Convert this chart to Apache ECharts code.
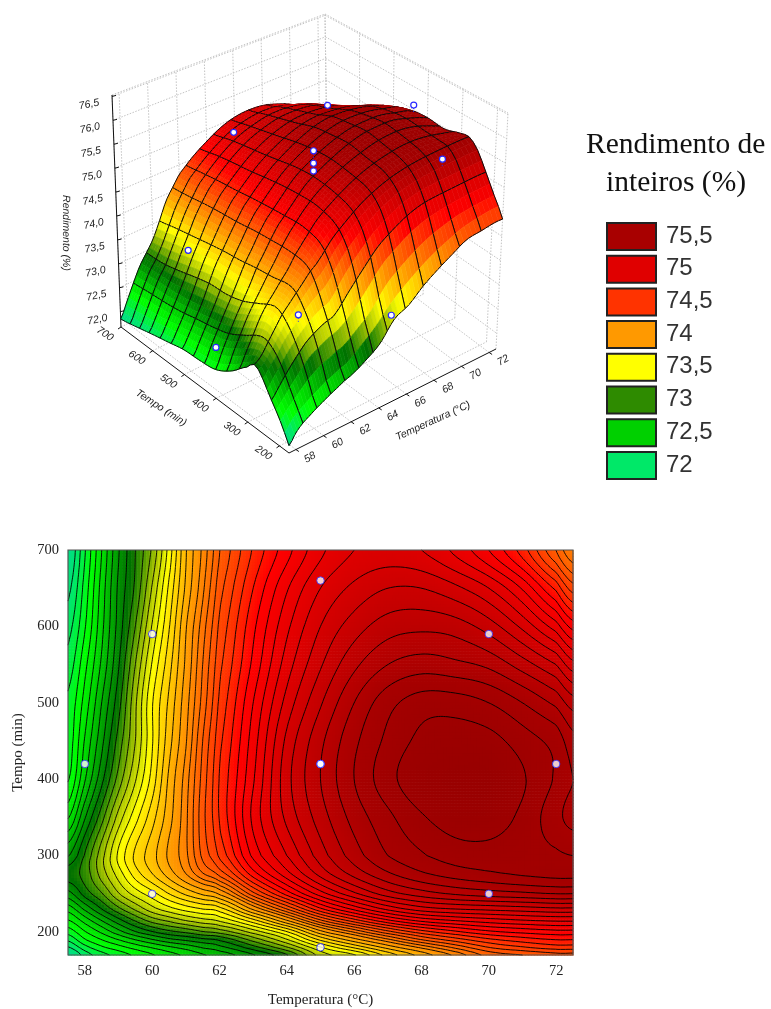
<!DOCTYPE html>
<html>
<head>
<meta charset="utf-8">
<style>
html, body { margin:0; padding:0; background:#fff; }
#main { width:771px; height:1009px; }
</style>
<script src="https://cdn.jsdelivr.net/npm/echarts@6/dist/echarts.min.js"></script>
</head>
<body>
<div id="main"></div>
<script>
// ==============================
// data
// ==============================

const temps = [57.5,58,58.5,59,59.5,60,60.5,61,61.5,62,63,64,65,66,67,68,69,70,71,72,72.5];
const times = [170,180,190,200,215,230,250,275,300,350,400,450,500,550,600,650,700];

// one row per entry of times, one column per entry of temps
const row170 = [71.82,72.00,72.12,72.20,72.28,72.35,72.42,72.48,72.55,72.60,72.75,72.95,73.30,73.45,73.70,73.90,74.08,74.25,74.30,74.35,74.35];
const row180 = [71.95,72.12,72.24,72.32,72.40,72.47,72.54,72.60,72.67,72.73,72.92,73.15,73.45,73.68,73.90,74.08,74.24,74.38,74.45,74.50,74.50];
const row190 = [72.08,72.25,72.36,72.46,72.56,72.65,72.73,72.78,72.83,72.88,73.10,73.35,73.68,73.92,74.12,74.30,74.42,74.52,74.58,74.62,74.62];
const row200 = [72.20,72.35,72.48,72.62,72.75,72.85,72.93,72.98,73.05,73.10,73.30,73.55,73.92,74.15,74.35,74.50,74.60,74.68,74.72,74.75,74.75];
const row215 = [72.35,72.50,72.66,72.82,72.97,73.10,73.18,73.26,73.32,73.38,73.62,73.95,74.28,74.50,74.68,74.80,74.86,74.90,74.93,74.95,74.95];
const row230 = [72.50,72.68,72.86,73.03,73.18,73.32,73.42,73.50,73.56,73.62,73.98,74.30,74.60,74.80,74.96,75.06,75.10,75.12,75.14,75.16,75.16];
const row250 = [72.72,72.90,73.05,73.25,73.40,73.52,73.66,73.78,73.88,73.98,74.35,74.65,74.90,75.08,75.22,75.30,75.35,75.38,75.40,75.42,75.42];
const row275 = [72.90,73.00,73.20,73.40,73.60,73.75,73.90,74.05,74.20,74.32,74.65,74.90,75.12,75.28,75.40,75.48,75.53,75.56,75.585,75.60,75.60];
const row300 = [72.75,72.97,73.22,73.48,73.68,73.82,73.98,74.12,74.32,74.48,74.80,75.02,75.22,75.38,75.50,75.57,75.62,75.63,75.61,75.59,75.58];
const row350 = [72.45,72.75,73.02,73.30,73.52,73.72,73.92,74.12,74.35,74.55,74.88,75.12,75.30,75.45,75.56,75.65,75.70,75.70,75.64,75.53,75.47];
const row400 = [72.25,72.55,72.83,73.10,73.35,73.60,73.88,74.10,74.33,74.55,74.85,75.15,75.34,75.50,75.63,75.72,75.75,75.75,75.67,75.57,75.50];
const row450 = [72.20,72.47,72.73,73.00,73.26,73.55,73.82,74.05,74.30,74.52,74.82,75.12,75.32,75.48,75.60,75.68,75.70,75.69,75.62,75.55,75.45];
const row500 = [72.18,72.40,72.66,72.92,73.24,73.55,73.78,74.02,74.25,74.48,74.78,75.05,75.25,75.42,75.55,75.62,75.62,75.58,75.50,75.40,75.30];
const row550 = [72.10,72.33,72.58,72.85,73.16,73.47,73.72,73.98,74.22,74.44,74.72,74.98,75.17,75.32,75.42,75.46,75.44,75.40,75.30,75.18,75.05];
const row600 = [72.02,72.25,72.53,72.80,73.06,73.37,73.65,73.95,74.18,74.40,74.68,74.92,75.10,75.22,75.30,75.32,75.30,75.22,75.08,74.90,74.75];
const row650 = [71.93,72.20,72.50,72.78,72.98,73.27,73.58,73.88,74.12,74.35,74.62,74.85,75.02,75.12,75.18,75.18,75.12,75.02,74.85,74.60,74.42];
const row700 = [71.85,72.15,72.46,72.75,72.96,73.18,73.50,73.85,74.08,74.30,74.55,74.75,74.92,75.02,75.05,75.02,74.92,74.78,74.58,74.30,74.15];
const yieldRows = [row170,row180,row190,row200,row215,row230,row250,row275,row300,row350,row400,row450,row500,row550,row600,row650,row700];

// experiment points
const pointTemp = [58,60,60,65,65,65,65,65,70,70,72];
const pointTime = [420,250,590,180,420,420,420,660,250,590,420];
const pointYield = [72.53,73.67,73.46,73.33,75.64,75.38,75.22,75.0,75.56,75.26,75.75];

// colour scale
const colorLevels = [71.8,72.0,72.3,72.5,72.9,73.0,73.25,73.5,74.0,74.5,74.7,75.0,75.5,75.8];
const colorValues = ['#00d890','#00e868','#00ff00','#00d800','#007000','#2e8b00','#a8c400','#ffff00','#ff9900','#ff3300','#ff0000','#e00000','#a80000','#960000'];

// legend
const legendLabels = ['75,5','75','74,5','74','73,5','73','72,5','72'];
const legendColors = ['#a80000','#e00000','#ff3300','#ff9900','#ffff00','#2e8b00','#00d000','#00e868'];

// axis ticks
const tempTicks = [58,60,62,64,66,68,70,72];
const timeTicks = [200,300,400,500,600,700];
const yieldTicks = [72,72.5,73,73.5,74,74.5,75,75.5,76,76.5];

// contour levels get wider below 74
const contourTop = 75.66;
const contourStepHigh = 0.08;
const contourStepLow = 0.1;
const contourBreak = 74.1;

// mesh lines of the 3D surface
const meshTemps = [57.5,58.5,59.5,60.5,61.5,62.5,63.5,64.5,65.75,67,68.25,69.5,71,72.5];
const meshTimes = [170,225,278,325,365,400,435,470,505,540,575,610,640,670,700];


// ==============================
// field lookup
// ==============================

function toIndex(list, v){
    for (let i = 0; i < list.length - 1; i++) {
        if (v <= list[i + 1]) return i + (v - list[i]) / (list[i + 1] - list[i]);
    }
    return list.length - 1;
}

function cubic(a, b, c, d, s){
    return b + 0.5 * s * (c - a + s * (2 * a - 5 * b + 4 * c - d + s * (3 * (b - c) + d - a)));
}

function rowAt(r, fc){
    const n = temps.length - 1;
    const c = Math.min(Math.floor(fc), n - 1);
    const row = yieldRows[r];
    return cubic(row[Math.max(c - 1, 0)], row[c], row[c + 1], row[Math.min(c + 2, n)], fc - c);
}

function yieldAt(temp, time){
    const fc = toIndex(temps, temp);
    const fr = toIndex(times, time);
    const n = times.length - 1;
    const r = Math.min(Math.floor(fr), n - 1);
    return cubic(
        rowAt(Math.max(r - 1, 0), fc), rowAt(r, fc),
        rowAt(r + 1, fc), rowAt(Math.min(r + 2, n), fc), fr - r
    );
}

function colorOf(z){
    const n = colorLevels.length - 1;
    if (z <= colorLevels[0]) return colorValues[0];
    if (z >= colorLevels[n]) return colorValues[n];
    let i = 0;
    while (z > colorLevels[i + 1]) i++;
    const s = (z - colorLevels[i]) / (colorLevels[i + 1] - colorLevels[i]);
    const rgb = k => {
        const a = parseInt(colorValues[i].substr(k, 2), 16);
        const b = parseInt(colorValues[i + 1].substr(k, 2), 16);
        return Math.round(a + (b - a) * s);
    };
    return 'rgb(' + rgb(1) + ',' + rgb(3) + ',' + rgb(5) + ')';
}


// ==============================
// 3D box projection
// ==============================

const boxBottom = { a:[121,327], b:[289,453], c:[496,349], d:[328,223] };
const boxTop = { a:[112,95], b:[289,198], c:[508,113], d:[325,14] };
const zMin = 71.68;
const zMax = 76.53;

function project(temp, time, z){
    const u = (temp - 57.5) / 15;
    const v = (time - 170) / 530;
    const w = (z - zMin) / (zMax - zMin);
    const mix = (k) => {
        const lo = boxBottom.a[k] * (1 - u) * v + boxBottom.b[k] * (1 - u) * (1 - v) +
                   boxBottom.c[k] * u * (1 - v) + boxBottom.d[k] * u * v;
        const hi = boxTop.a[k] * (1 - u) * v + boxTop.b[k] * (1 - u) * (1 - v) +
                   boxTop.c[k] * u * (1 - v) + boxTop.d[k] * u * v;
        return lo + (hi - lo) * w;
    };
    return [mix(0), mix(1)];
}


// ==============================
// contour map cells and lines
// ==============================

const heatCells = [];
const heatStepT = 15 / 168;
const heatStepM = 530 / 136;
for (let i = 0; i < 168; i++) {
    for (let j = 0; j < 136; j++) {
        const t0 = 57.5 + i * heatStepT;
        const m0 = 170 + j * heatStepM;
        heatCells.push([t0, m0, t0 + heatStepT, m0 + heatStepM,
            yieldAt(t0 + heatStepT / 2, m0 + heatStepM / 2)]);
    }
}

const contourLevels = [];
for (let level = contourTop; level > 71.9; ) {
    contourLevels.push(level);
    level -= level > contourBreak ? contourStepHigh : contourStepLow;
}

const isoLines = [];
(function buildContours(){
    const nx = 202, ny = 163;
    const sample = [];
    for (let i = 0; i <= nx; i++) {
        sample.push([]);
        for (let j = 0; j <= ny; j++) {
            sample[i].push(yieldAt(57.5 + 15 * i / nx, 170 + 530 * j / ny));
        }
    }
    const px = i => 57.5 + 15 * i / nx;
    const py = j => 170 + 530 * j / ny;
    contourLevels.forEach(level => {
        const segs = [];
        for (let i = 0; i < nx; i++) {
            for (let j = 0; j < ny; j++) {
                const a = sample[i][j], b = sample[i + 1][j];
                const c = sample[i + 1][j + 1], d = sample[i][j + 1];
                const pts = [];
                if ((a < level) !== (b < level)) pts.push([px(i + (level - a) / (b - a)), py(j)]);
                if ((b < level) !== (c < level)) pts.push([px(i + 1), py(j + (level - b) / (c - b))]);
                if ((d < level) !== (c < level)) pts.push([px(i + (level - d) / (c - d)), py(j + 1)]);
                if ((a < level) !== (d < level)) pts.push([px(i), py(j + (level - a) / (d - a))]);
                if (pts.length >= 2) segs.push(pts[0].concat(pts[1]));
                if (pts.length === 4) segs.push(pts[2].concat(pts[3]));
            }
        }
        isoLines.push(segs);
    });
})();


// ==============================
// 3D surface facets, far to near
// ==============================

const facets = [];
(function buildFacets(){
    const subT = 5, subM = 4;
    const us = [], vs = [];
    for (let i = 0; i < meshTemps.length - 1; i++) {
        for (let s = 0; s < subT; s++) us.push(meshTemps[i] + (meshTemps[i + 1] - meshTemps[i]) * s / subT);
    }
    us.push(meshTemps[meshTemps.length - 1]);
    for (let j = 0; j < meshTimes.length - 1; j++) {
        for (let s = 0; s < subM; s++) vs.push(meshTimes[j] + (meshTimes[j + 1] - meshTimes[j]) * s / subM);
    }
    vs.push(meshTimes[meshTimes.length - 1]);
    for (let i = 0; i < us.length - 1; i++) {
        for (let j = 0; j < vs.length - 1; j++) {
            const t0 = us[i], t1 = us[i + 1], m0 = vs[j], m1 = vs[j + 1];
            facets.push({
                corners: [
                    project(t0, m0, yieldAt(t0, m0)),
                    project(t1, m0, yieldAt(t1, m0)),
                    project(t1, m1, yieldAt(t1, m1)),
                    project(t0, m1, yieldAt(t0, m1))
                ],
                z: yieldAt((t0 + t1) / 2, (m0 + m1) / 2),
                depth: (t0 - 57.5) / 15 + (m0 - 170) / 530,
                left: i % subT === 0,
                right: (i + 1) % subT === 0,
                low: j % subM === 0,
                high: (j + 1) % subM === 0
            });
        }
    }
    facets.sort((p, q) => q.depth - p.depth);
})();


// ==============================
// box walls, floor and axes
// ==============================

const wallLines = [];
const axisLines = [];
yieldTicks.forEach(z => {
    wallLines.push([project(57.5, 700, z), project(72.5, 700, z)]);
    wallLines.push([project(72.5, 700, z), project(72.5, 170, z)]);
});
tempTicks.forEach(t => {
    wallLines.push([project(t, 700, zMin), project(t, 700, zMax)]);
    wallLines.push([project(t, 170, zMin), project(t, 700, zMin)]);
});
timeTicks.forEach(m => {
    wallLines.push([project(72.5, m, zMin), project(72.5, m, zMax)]);
    wallLines.push([project(57.5, m, zMin), project(72.5, m, zMin)]);
});
[[57.5,700],[72.5,700],[72.5,170]].forEach(p => {
    wallLines.push([project(p[0], p[1], zMin), project(p[0], p[1], zMax)]);
});
wallLines.push([project(57.5, 700, zMax), project(72.5, 700, zMax)]);
wallLines.push([project(72.5, 700, zMax), project(72.5, 170, zMax)]);

axisLines.push([project(57.5, 700, zMin), project(57.5, 700, zMax)]);
axisLines.push([project(57.5, 700, zMin), project(57.5, 170, zMin)]);
axisLines.push([project(57.5, 170, zMin), project(72.5, 170, zMin)]);
yieldTicks.forEach(z => {
    const p = project(57.5, 700, z);
    axisLines.push([p, [p[0] + 4, p[1] - 1]]);
});
timeTicks.forEach(m => {
    const p = project(57.5, m, zMin);
    axisLines.push([p, [p[0] - 3, p[1] + 2]]);
});
tempTicks.forEach(t => {
    const p = project(t, 170, zMin);
    axisLines.push([p, [p[0] + 3, p[1] + 2]]);
});

const textItems = [];
yieldTicks.forEach(z => {
    const p = project(57.5, 700, z);
    textItems.push([p[0] - 23, p[1] + 8, z.toFixed(1).replace('.', ','), 0.2]);
});
timeTicks.forEach(m => {
    const p = project(57.5, m, zMin);
    textItems.push([p[0] - 16, p[1] + 7, String(m), -0.6]);
});
tempTicks.forEach(t => {
    const p = project(t, 170, zMin);
    textItems.push([p[0] + 14, p[1] + 8, String(t), 0.5]);
});
textItems.push([161, 408, 'Tempo (min)', -0.58]);
textItems.push([433, 421, 'Temperatura (°C)', 0.43]);
textItems.push([66, 233, 'Rendimento (%)', -1.57]);


// ==============================
// chart
// ==============================

var myChart = echarts.init(document.getElementById('main'), null, { renderer:'canvas' });

function simpleLine(p, q, style){
    return { type:'line', shape:{ x1:p[0], y1:p[1], x2:q[0], y2:q[1] }, style:style };
}

myChart.setOption({

    backgroundColor:'#ffffff',
    animation:false,

    grid:[
        { left:68, top:550, width:505, height:408 },
        { left:0, top:0, width:771, height:1009 }
    ],

    xAxis:[
        {
            type:'value', gridIndex:0, min:57.5, max:72.5,
            name:'Temperatura (°C)', nameLocation:'middle', nameGap:38,
            nameTextStyle:{ fontFamily:'Liberation Serif', fontSize:15, color:'#222' },
            splitLine:{ show:false },
            axisLine:{ show:false },
            axisTick:{ show:false },
            axisLabel:{ customValues:tempTicks, margin:9, fontFamily:'Liberation Serif', fontSize:14.5, color:'#222' }
        },
        { type:'value', gridIndex:1, min:0, max:771, show:false }
    ],

    yAxis:[
        {
            type:'value', gridIndex:0, min:170, max:700,
            name:'Tempo (min)', nameLocation:'middle', nameGap:42,
            nameTextStyle:{ fontFamily:'Liberation Serif', fontSize:15, color:'#222' },
            splitLine:{ show:false },
            axisLine:{ show:false },
            axisTick:{ show:false },
            axisLabel:{ customValues:timeTicks, margin:9, fontFamily:'Liberation Serif', fontSize:14.5, color:'#222' }
        },
        { type:'value', gridIndex:1, min:0, max:1009, inverse:true, show:false }
    ],

    series:[

        // contour colour cells
        {
            type:'custom', xAxisIndex:0, yAxisIndex:0, z:1, silent:true, progressive:0,
            data:heatCells,
            dimensions:['t0','m0','t1','m1','z'],
            encode:{ x:[0,2], y:[1,3] },
            renderItem:function(params, api){
                const p = api.coord([api.value(0), api.value(3)]);
                const q = api.coord([api.value(2), api.value(1)]);
                return {
                    type:'rect',
                    shape:{ x:p[0], y:p[1], width:q[0] - p[0] + 0.6, height:q[1] - p[1] + 0.6 },
                    style:{ fill:colorOf(api.value(4)) }
                };
            }
        },

        // contour lines
        {
            type:'custom', xAxisIndex:0, yAxisIndex:0, z:2, silent:true, progressive:0,
            data:isoLines.map((s, i) => [i]),
            renderItem:function(params, api){
                let path = '';
                isoLines[params.dataIndex].forEach(s => {
                    const p = api.coord([s[0], s[1]]);
                    const q = api.coord([s[2], s[3]]);
                    path += 'M' + p[0].toFixed(1) + ' ' + p[1].toFixed(1) + 'L' + q[0].toFixed(1) + ' ' + q[1].toFixed(1);
                });
                return {
                    type:'path',
                    shape:{ pathData:path },
                    style:{ fill:null, stroke:'#000', lineWidth:0.9 }
                };
            }
        },

        // measured points on the map
        {
            type:'scatter', xAxisIndex:0, yAxisIndex:0, z:4, silent:true,
            symbol:'circle', symbolSize:7.5,
            itemStyle:{ color:'#ffffff', borderColor:'#2828ff', borderWidth:1 },
            data:pointTemp.map((t, i) => [t, pointTime[i]])
        },

        // frame of the map
        {
            type:'custom', xAxisIndex:0, yAxisIndex:0, z:3, silent:true,
            data:[[0]],
            renderItem:function(params, api){
                const p = api.coord([57.5, 700]);
                const q = api.coord([72.5, 170]);
                return {
                    type:'rect',
                    shape:{ x:p[0], y:p[1], width:q[0] - p[0], height:q[1] - p[1] },
                    style:{ fill:null, stroke:'#555', lineWidth:1.2 }
                };
            }
        },

        // dotted walls of the 3D box
        {
            type:'custom', xAxisIndex:1, yAxisIndex:1, z:1, silent:true, progressive:0,
            data:wallLines.map((s, i) => [i]),
            renderItem:function(params, api){
                const s = wallLines[params.dataIndex];
                return simpleLine(api.coord(s[0]), api.coord(s[1]), { stroke:'#c4c4c4', lineWidth:1, lineDash:[1.5,1.5] });
            }
        },

        // 3D axes
        {
            type:'custom', xAxisIndex:1, yAxisIndex:1, z:2, silent:true, progressive:0,
            data:axisLines.map((s, i) => [i]),
            renderItem:function(params, api){
                const s = axisLines[params.dataIndex];
                return simpleLine(api.coord(s[0]), api.coord(s[1]), { stroke:'#111', lineWidth:1 });
            }
        },

        // 3D surface
        {
            type:'custom', xAxisIndex:1, yAxisIndex:1, z:3, silent:true, progressive:0,
            data:facets.map((f, i) => [i]),
            renderItem:function(params, api){
                const f = facets[params.dataIndex];
                const pts = f.corners.map(c => api.coord(c));
                const color = colorOf(f.z);
                const mesh = { stroke:'#0c0c0c', lineWidth:1 };
                const children = [{
                    type:'polygon',
                    shape:{ points:pts },
                    style:{ fill:color, stroke:color, lineWidth:0.6 }
                }];
                if (f.low) children.push(simpleLine(pts[0], pts[1], mesh));
                if (f.right) children.push(simpleLine(pts[1], pts[2], mesh));
                if (f.high) children.push(simpleLine(pts[2], pts[3], mesh));
                if (f.left) children.push(simpleLine(pts[3], pts[0], mesh));
                return { type:'group', children:children };
            }
        },

        // measured points on the surface, with a stem down to it
        {
            type:'custom', xAxisIndex:1, yAxisIndex:1, z:4, silent:true,
            data:pointTemp.map((t, i) => [i]),
            renderItem:function(params, api){
                const i = params.dataIndex;
                const p = api.coord(project(pointTemp[i], pointTime[i], pointYield[i]));
                const q = api.coord(project(pointTemp[i], pointTime[i], yieldAt(pointTemp[i], pointTime[i])));
                const children = [];
                if (q[1] > p[1]) {
                    children.push(simpleLine(p, q, { stroke:'#2828ff', lineWidth:1, lineDash:[1,2] }));
                }
                children.push({
                    type:'circle',
                    shape:{ cx:p[0], cy:p[1], r:3 },
                    style:{ fill:'#ffffff', stroke:'#2828ff', lineWidth:1.2 }
                });
                return { type:'group', children:children };
            }
        },

        // 3D axis texts
        {
            type:'custom', xAxisIndex:1, yAxisIndex:1, z:5, silent:true,
            data:textItems.map((s, i) => [i]),
            renderItem:function(params, api){
                const s = textItems[params.dataIndex];
                const p = api.coord([s[0], s[1]]);
                return {
                    type:'text', x:p[0], y:p[1], rotation:s[3],
                    style:{
                        text:s[2], align:'center', verticalAlign:'middle',
                        font:'italic 10.5px "Liberation Sans"', fill:'#222'
                    }
                };
            }
        },

        // legend swatches and labels
        {
            type:'custom', xAxisIndex:1, yAxisIndex:1, z:5, silent:true,
            data:legendLabels.map((s, i) => [i]),
            renderItem:function(params, api){
                const i = params.dataIndex;
                const y = 223 + i * 32.7;
                const p = api.coord([607, y]);
                return {
                    type:'group',
                    children:[
                        {
                            type:'rect',
                            shape:{ x:p[0], y:p[1], width:49, height:27 },
                            style:{ fill:legendColors[i], stroke:'#222', lineWidth:2 }
                        },
                        {
                            type:'text', x:p[0] + 59, y:p[1] + 13,
                            style:{
                                text:legendLabels[i], align:'left', verticalAlign:'middle',
                                font:'24px "Liberation Sans"', fill:'#333'
                            }
                        }
                    ]
                };
            }
        }

    ],

    graphic:[
        {
            type:'text', left:586, top:130,
            style:{ text:'Rendimento de', font:'29.5px "Liberation Serif"', fill:'#111' }
        },
        {
            type:'text', left:606, top:168,
            style:{ text:'inteiros (%)', font:'29.5px "Liberation Serif"', fill:'#111' }
        }
    ]

});
</script>
</body>
</html>
